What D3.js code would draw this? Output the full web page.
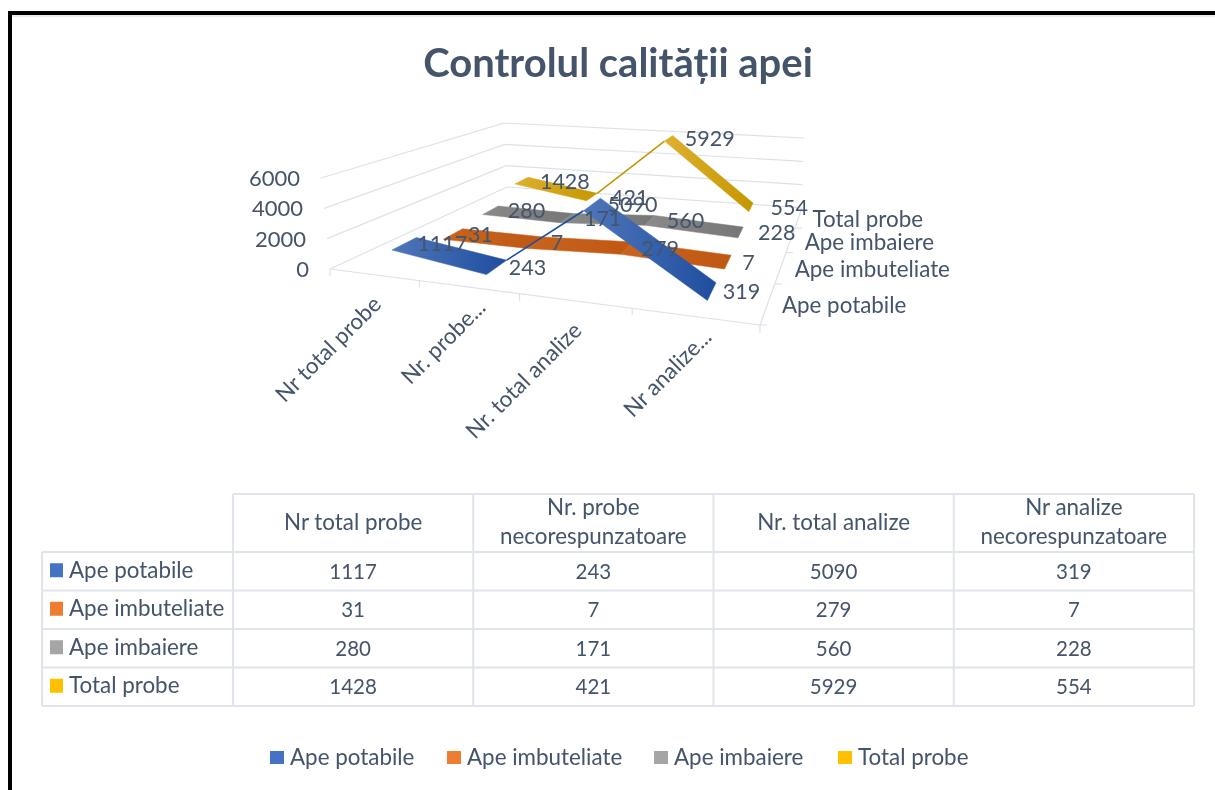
<!DOCTYPE html>
<html><head><meta charset="utf-8">
<script src="https://cdn.jsdelivr.net/npm/d3@7"></script>
<style>html,body{margin:0;padding:0;background:#fff}svg{display:block}text{font-family:Lato,"Open Sans",sans-serif;fill:#44546a}#chart{filter:blur(0.45px)}</style>
</head><body><svg id="c" width="1215" height="790"></svg>
<script>
const title = "Controlul calității apei";
const seriesNames = ["Ape potabile","Ape imbuteliate","Ape imbaiere","Total probe"];
const categories = ["Nr total probe","Nr. probe necorespunzatoare","Nr. total analize","Nr analize necorespunzatoare"];
const categoryTicks = ["Nr total probe","Nr. probe...","Nr. total analize","Nr analize..."];
const tableHeaders = [["Nr total probe"],["Nr. probe","necorespunzatoare"],["Nr. total analize"],["Nr analize","necorespunzatoare"]];
const apePotabile = [1117,243,5090,319];
const apeImbuteliate = [31,7,279,7];
const apeImbaiere = [280,171,560,228];
const totalProbe = [1428,421,5929,554];
const seriesValues = [apePotabile,apeImbuteliate,apeImbaiere,totalProbe];
const valueTicks = [0,2000,4000,6000];
const swatchColors = ["#4472c4","#ed7d31","#a5a5a5","#ffc000"];
const ribbonStart = ["#4f76ba","#c8641f","#8a8a8a","#dfb02e"];
const ribbonEnd = ["#1f4e9f","#bf5711","#767676","#c49700"];

const root = d3.select("#c");
const defs = root.append("defs");

// frame
root.append("rect").attr("x",8).attr("y",15).attr("width",1207).attr("height",2).attr("fill","#e8ebf0");
root.append("rect").attr("x",8).attr("y",11).attr("width",1207).attr("height",4).attr("fill","#000");
root.append("rect").attr("x",8).attr("y",11).attr("width",4).attr("height",779).attr("fill","#000");

const svg = root.append("g").attr("id","chart");

svg.append("text").attr("x",618).attr("y",77).attr("text-anchor","middle")
  .style("font-size","40px").style("font-weight",700).text(title);

// projective map of the plot box
function quadMap(p0,p1,p2,p3){ // (0,0),(1,0),(1,1),(0,1)
  const dx1=p1[0]-p2[0],dx2=p3[0]-p2[0],sx=p0[0]-p1[0]+p2[0]-p3[0];
  const dy1=p1[1]-p2[1],dy2=p3[1]-p2[1],sy=p0[1]-p1[1]+p2[1]-p3[1];
  const den=dx1*dy2-dx2*dy1;
  const g=(sx*dy2-dx2*sy)/den,h=(dx1*sy-sx*dy1)/den;
  const a=p1[0]-p0[0]+g*p1[0],b=p3[0]-p0[0]+h*p3[0],c=p0[0];
  const d=p1[1]-p0[1]+g*p1[1],e=p3[1]-p0[1]+h*p3[1],f=p0[1];
  return (u,v)=>{const w=g*u+h*v+1;return [(a*u+b*v+c)/w,(d*u+e*v+f)/w];};
}
const floorMap = quadMap([330,269],[760,325],[802,208],[507,187]);
const ceilMap  = quadMap([321,178],[779,226],[804,138],[504,123]);

const xScale = d3.scalePoint(categories,[0,1]).padding(0.5);
const xBand  = d3.scaleBand(categories,[0,1]);
const zScale = d3.scaleBand(seriesNames,[0,1]).paddingInner(0.54).paddingOuter(0.27);
const zStep  = d3.scaleBand(seriesNames,[0,1]);
const yScale = d3.scaleLinear([0,6000],[0,1]);

function project(u,v,h){
  const a=floorMap(u,v),b=ceilMap(u,v);
  return [a[0]+(b[0]-a[0])*h,a[1]+(b[1]-a[1])*h];
}
// ribbons sit slightly skewed relative to the floor grid
const projectRibbon=(u,v,h)=>project(u+0.03*(0.5-v)*(1-h),v,h);
const lineGen = d3.line();
const grid="#dde2ea";

// gridlines on left and back walls
const gridG = svg.append("g").attr("fill","none").attr("stroke",grid).attr("stroke-width",1.2);
valueTicks.forEach(t=>{
  const h=yScale(t);
  gridG.append("path").attr("d",lineGen([project(0,0,h),project(0,1,h),project(1,1,h)]));
});
gridG.append("path").attr("d",lineGen([project(0,0,0),project(1,0,0),project(1,1,0)]));
categories.forEach(c=>{
  const p=project(xBand(c),0,0);
  gridG.append("path").attr("d",lineGen([p,[p[0],p[1]+7]]));
});
gridG.append("path").attr("d",(()=>{const p=project(1,0,0);return lineGen([p,[p[0],p[1]+8]]);})());
seriesNames.forEach(s=>{
  const p=project(1,zStep(s),0);
  gridG.append("path").attr("d",lineGen([p,[p[0]+7,p[1]]]));
});

// ribbons, back to front
const ribbonG = svg.append("g");
d3.range(seriesNames.length-1,-1,-1).forEach(j=>{
  const s=seriesNames[j], vals=seriesValues[j];
  const v0=zScale(s), v1=v0+zScale.bandwidth();
  d3.range(vals.length-1).forEach(i=>{
    const ua=xScale(categories[i]),ub=xScale(categories[i+1]);
    const ha=yScale(vals[i]),hb=yScale(vals[i+1]);
    const q=[projectRibbon(ua,v0,ha),projectRibbon(ub,v0,hb),projectRibbon(ub,v1,hb),projectRibbon(ua,v1,ha)];
    if(hb-ha>0.3){ // steep rise: the surface turns away and only an edge shows
      ribbonG.append("path").attr("fill","none").attr("stroke",ribbonEnd[j]).attr("stroke-width",1.6)
        .attr("d",lineGen([q[3],q[1]]));
      return;
    }
    const id=`g${j}_${i}`;
    const gr=defs.append("linearGradient").attr("id",id);
    gr.append("stop").attr("offset",0).attr("stop-color",ribbonStart[j]);
    gr.append("stop").attr("offset",1).attr("stop-color",ribbonEnd[j]);
    ribbonG.append("path").attr("fill",`url(#${id})`).attr("stroke",`url(#${id})`).attr("stroke-width",0.5)
      .attr("d",lineGen(q)+"Z");
  });
});

// value axis labels
valueTicks.forEach(t=>{
  const p=project(0,0,yScale(t));
  svg.append("text").attr("x",p[0]-21).attr("y",p[1]+8).attr("text-anchor","end")
    .style("font-size","22px").text(t);
});
// category labels
categoryTicks.forEach((t,i)=>{
  const p=project(xScale(categories[i]),0,0);
  const trunc=t.endsWith("...");
  svg.append("text").attr("text-anchor","end")
    .attr("transform",`translate(${p[0]+9+(trunc?10:0)},${p[1]+31-(trunc?9:0)}) rotate(-45)`)
    .style("font-size","22.4px").text(t);
});
// series labels
seriesNames.forEach(s=>{
  const p=project(1,zStep(s)+zStep.bandwidth()/2,0);
  svg.append("text").attr("x",p[0]+14).attr("y",p[1]+10).style("font-size","22.4px").text(s);
});
// data labels
seriesNames.forEach((s,j)=>{
  seriesValues[j].forEach((val,i)=>{
    const p=project(xScale(categories[i]),zScale(s)+zScale.bandwidth()/2,yScale(val));
    svg.append("text").attr("x",p[0]+16).attr("y",p[1]+8).style("font-size","21.5px").text(val);
  });
});

// data table
const colEdges=d3.scaleBand(categories,[233,1194]);
const rowEdges=d3.scaleBand(seriesNames,[552,706]);
const tableG=svg.append("g").attr("fill","none").attr("stroke","#e0e4ec").attr("stroke-width",2);
const L=42,Hd=494;
tableG.append("path").attr("d",lineGen([[233,Hd],[1194,Hd]]));
seriesNames.forEach(s=>tableG.append("path").attr("d",lineGen([[L,rowEdges(s)],[1194,rowEdges(s)]])));
tableG.append("path").attr("d",lineGen([[L,706],[1194,706]]));
tableG.append("path").attr("d",lineGen([[L,552],[L,706]]));
categories.forEach(c=>tableG.append("path").attr("d",lineGen([[colEdges(c),Hd],[colEdges(c),706]])));
tableG.append("path").attr("d",lineGen([[1194,Hd],[1194,706]]));
categories.forEach((c,i)=>{
  const cx=colEdges(c)+colEdges.bandwidth()/2, lines=tableHeaders[i];
  lines.forEach((ln,k)=>{
    const y=lines.length===1?530:515+k*29;
    svg.append("text").attr("x",cx).attr("y",y).attr("text-anchor","middle").style("font-size","22.4px").text(ln);
  });
  seriesNames.forEach((s,j)=>{
    svg.append("text").attr("x",cx).attr("y",rowEdges(s)+rowEdges.bandwidth()/2+7.5).attr("text-anchor","middle")
      .style("font-size","20.5px").text(seriesValues[j][i]);
  });
});
seriesNames.forEach((s,j)=>{
  const cy=rowEdges(s)+rowEdges.bandwidth()/2;
  svg.append("rect").attr("x",50).attr("y",cy-8).attr("width",13).attr("height",14).attr("fill",swatchColors[j]);
  svg.append("text").attr("x",69).attr("y",cy+6.5).style("font-size","22.4px").text(s);
});
// legend
const legendX=[270,447,654,838];
seriesNames.forEach((s,j)=>{
  svg.append("rect").attr("x",legendX[j]).attr("y",751).attr("width",14).attr("height",13).attr("fill",swatchColors[j]);
  svg.append("text").attr("x",legendX[j]+20).attr("y",765).style("font-size","22.4px").text(s);
});
</script></body></html>
